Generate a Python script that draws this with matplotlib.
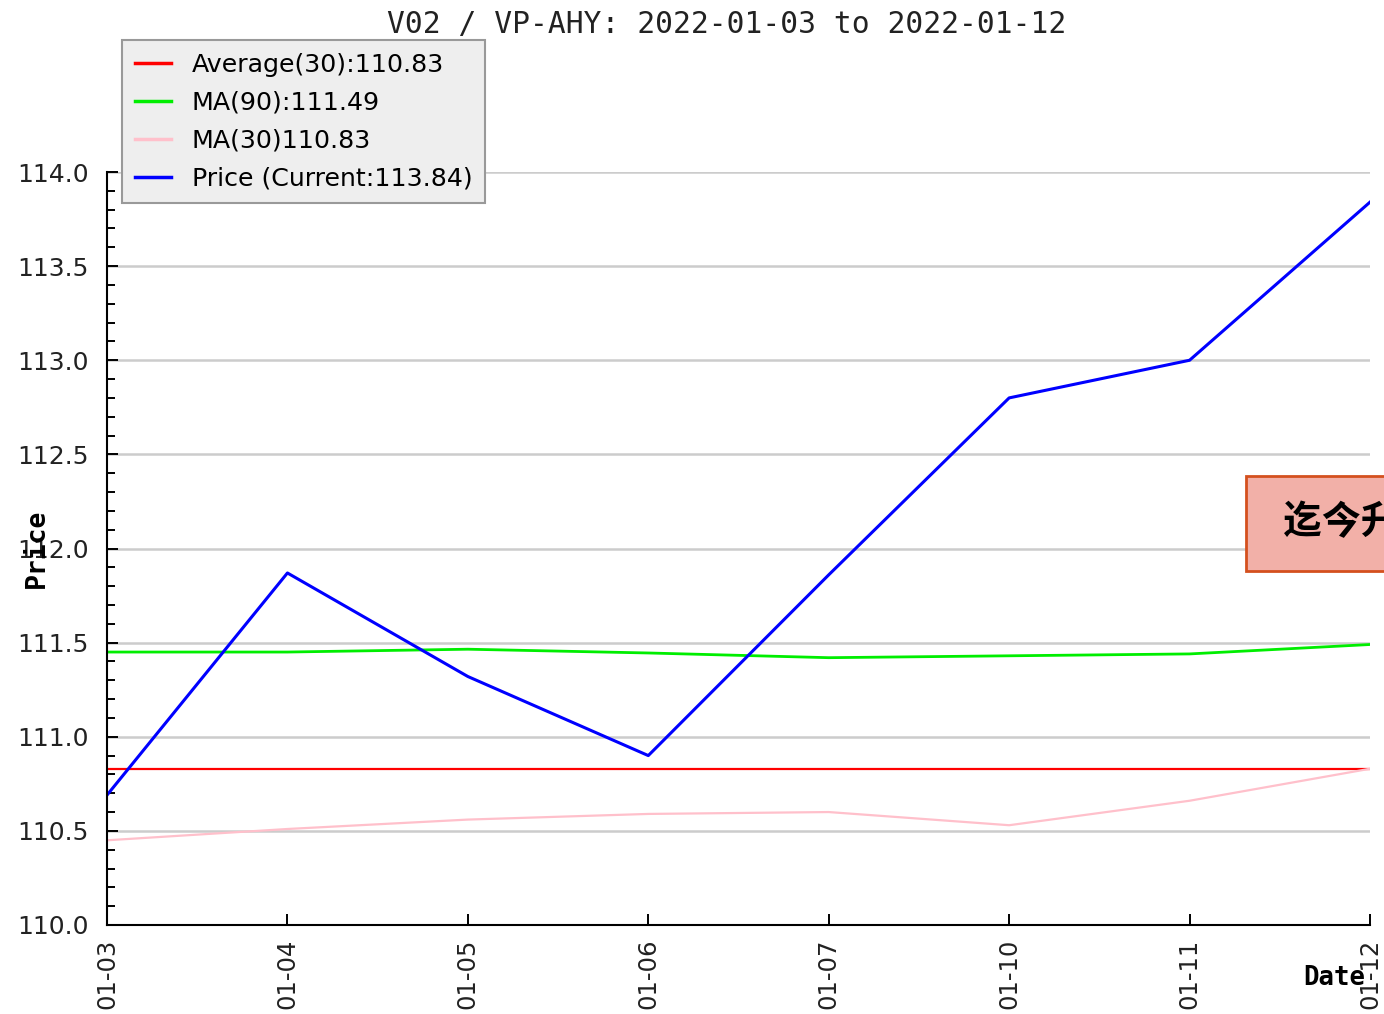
import matplotlib
matplotlib.use('Agg')
import matplotlib.pyplot as plt
from matplotlib.patches import Rectangle
from matplotlib.ticker import MultipleLocator

dates = ['01-03', '01-04', '01-05', '01-06', '01-07', '01-10', '01-11', '01-12']
price = [110.69, 111.87, 111.32, 110.90, 111.86, 112.80, 113.00, 113.84]
avg30 = [110.83, 110.83, 110.83, 110.83, 110.83, 110.83, 110.83, 110.83]
ma90 = [111.45, 111.45, 111.465, 111.445, 111.42, 111.43, 111.44, 111.49]
ma30 = [110.45, 110.51, 110.56, 110.59, 110.60, 110.53, 110.66, 110.83]

labels = ['Average(30):110.83', 'MA(90):111.49', 'MA(30)110.83', 'Price (Current:113.84)']
title = 'V02 / VP-AHY: 2022-01-03 to 2022-01-12'
note = '迄今升幅: +2.8%'

W, H = 1384, 1014
fig = plt.figure(figsize=(W / 100, H / 100), dpi=100)
ax = fig.add_axes([107 / W, 1 - 925 / H, (1370 - 107) / W, (925 - 172) / H])

x = list(range(len(dates)))
ax.plot(x, avg30, color='red', lw=1.6, label=labels[0])
ax.plot(x, ma90, color='#00ee00', lw=2.0, label=labels[1])
ax.plot(x, ma30, color='pink', lw=1.6, label=labels[2])
ax.plot(x, price, color='blue', lw=2.2, label=labels[3])

ax.set_xlim(0, len(dates) - 1)
ax.set_ylim(110.0, 114.0)
ax.set_xticks(x)
ax.set_xticklabels(dates, rotation=90)
ax.yaxis.set_major_locator(MultipleLocator(0.5))
ax.yaxis.set_minor_locator(MultipleLocator(0.1))
ax.yaxis.set_major_formatter(plt.FormatStrFormatter('%.1f'))
ax.grid(axis='y', which='major', color='#cccccc', lw=1.8)
ax.set_axisbelow(True)

for s in ['top', 'right']:
    ax.spines[s].set_visible(False)
for s in ['left', 'bottom']:
    ax.spines[s].set_linewidth(1.5)

ax.tick_params(axis='y', which='major', direction='in', length=8, width=1.4,
               labelsize=18, pad=13, labelcolor='#222222')
ax.tick_params(axis='y', which='minor', direction='in', length=5.5, width=1.4)
ax.tick_params(axis='x', direction='in', length=8, width=1.4,
               labelsize=17.5, pad=10, labelcolor='#222222')

ax.set_ylabel('Price', family='DejaVu Sans Mono', fontweight='bold', fontsize=19, va='center')
ax.yaxis.set_label_coords(-0.0554, 0.5)
ax.set_xlabel('Date', family='DejaVu Sans Mono', fontweight='bold', fontsize=18.5, ha='right', va='center')
ax.xaxis.set_label_coords(0.996, -0.0704)

fig.text(727 / W, 1 - 25 / H, title, family='DejaVu Sans Mono', fontsize=21.3,
         ha='center', va='center', color='#222222')

leg = ax.legend(loc='upper left', bbox_to_anchor=(122 / W, 1 - 40 / H),
                bbox_transform=fig.transFigure, borderaxespad=0, fontsize=18.2,
                handlelength=1.45, handletextpad=0.8, labelspacing=0.55,
                borderpad=0.5, fancybox=False, framealpha=1)
leg.get_frame().set_facecolor('#eeeeee')
leg.get_frame().set_edgecolor('#999999')
leg.get_frame().set_linewidth(1.5)
for line in leg.get_lines():
    line.set_linewidth(2.5)

fig.patches.append(Rectangle((1246 / W, 1 - 571 / H), 300 / W, 95 / H,
                             transform=fig.transFigure, facecolor='#f2b0a8',
                             edgecolor='#d4501e', lw=2, zorder=5))
fig.text(1283 / W, 1 - 523 / H, note, family=['Noto Sans CJK SC', 'DejaVu Sans'],
         fontsize=28, fontweight='bold', ha='left', va='center', color='black', zorder=6)

fig.savefig('out.png', dpi=100)
